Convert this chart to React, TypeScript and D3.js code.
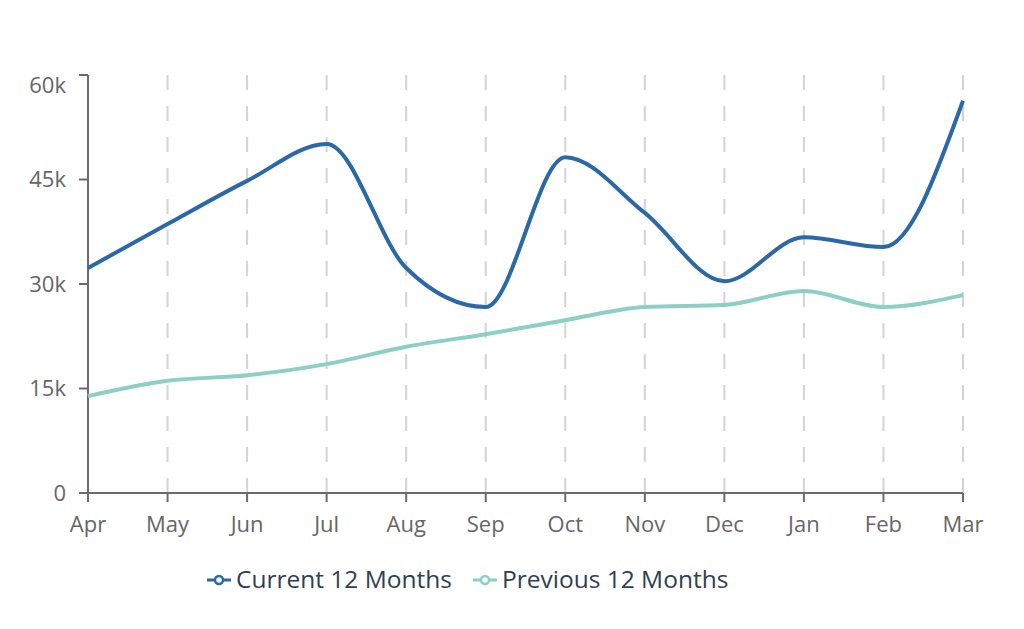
import React from "react";
import * as d3 from "d3";

const months = ["Apr", "May", "Jun", "Jul", "Aug", "Sep", "Oct", "Nov", "Dec", "Jan", "Feb", "Mar"];
const current = [32.3, 38.6, 44.8, 50.1, 32.3, 26.7, 48.2, 40.2, 30.4, 36.7, 35.3, 56.3];
const previous = [13.9, 16.1, 16.9, 18.5, 21.0, 22.8, 24.8, 26.7, 27.0, 29.0, 26.7, 28.4];
const yTicks = [0, 15, 30, 45, 60];
const seriesNames = ["Current 12 Months", "Previous 12 Months"];
const seriesColors = ["#2b68a8", "#8ccfc6"];

const W = 1024, H = 629;
const left = 88, right = 963, top = 75, bottom = 493;
const FONT = "'Open Sans', Lato, sans-serif";

export default function App() {
  const x = d3.scalePoint<string>().domain(months).range([left, right]);
  const y = d3.scaleLinear().domain([0, 60]).range([bottom, top]);
  const line = d3
    .line<number>()
    .x((_, i) => x(months[i]) as number)
    .y((d) => y(d))
    .curve(d3.curveMonotoneX);
  const series = [current, previous];

  const legendItems = [
    { x: 207, name: seriesNames[0], color: seriesColors[0] },
    { x: 473, name: seriesNames[1], color: seriesColors[1] },
  ];

  return (
    <svg width={W} height={H} style={{ position: "absolute", left: 0, top: 0, background: "#fff" }}>
      {months.slice(1).map((m) => (
        <line key={m} x1={x(m)} x2={x(m)} y1={top} y2={bottom} stroke="#d4d4d4" strokeWidth={2} strokeDasharray="15 16" />
      ))}
      <line x1={left} x2={left} y1={top} y2={bottom} stroke="#6b6b6b" strokeWidth={2} />
      {yTicks.map((t) => (
        <g key={t}>
          <line x1={left - 9} x2={left} y1={y(t)} y2={y(t)} stroke="#6b6b6b" strokeWidth={2} />
          <text x={66} y={y(t) + (t === 60 ? 10 : 0)} dy="0.35em" textAnchor="end" fontFamily={FONT} fontSize={22} fill="#666">
            {t === 0 ? "0" : `${t}k`}
          </text>
        </g>
      ))}
      <line x1={left} x2={right} y1={bottom} y2={bottom} stroke="#6b6b6b" strokeWidth={2} />
      {months.map((m) => (
        <g key={m}>
          <line x1={x(m)} x2={x(m)} y1={bottom} y2={bottom + 9} stroke="#6b6b6b" strokeWidth={2} />
          <text x={x(m)} y={532} textAnchor="middle" fontFamily={FONT} fontSize={22} fill="#666">
            {m}
          </text>
        </g>
      ))}
      {series.map((s, i) => (
        <path key={i} d={line(s) || ""} fill="none" stroke={seriesColors[i]} strokeWidth={4} strokeLinejoin="round" />
      ))}
      {legendItems.map((it) => (
        <g key={it.name}>
          <line x1={it.x} x2={it.x + 24} y1={580} y2={580} stroke={it.color} strokeWidth={3} />
          <circle cx={it.x + 12} cy={580} r={4} fill="#fff" stroke={it.color} strokeWidth={2.5} />
          <text x={it.x + 29} y={588} fontFamily={FONT} fontSize={24.5} fill="#2e4152">
            {it.name}
          </text>
        </g>
      ))}
    </svg>
  );
}
